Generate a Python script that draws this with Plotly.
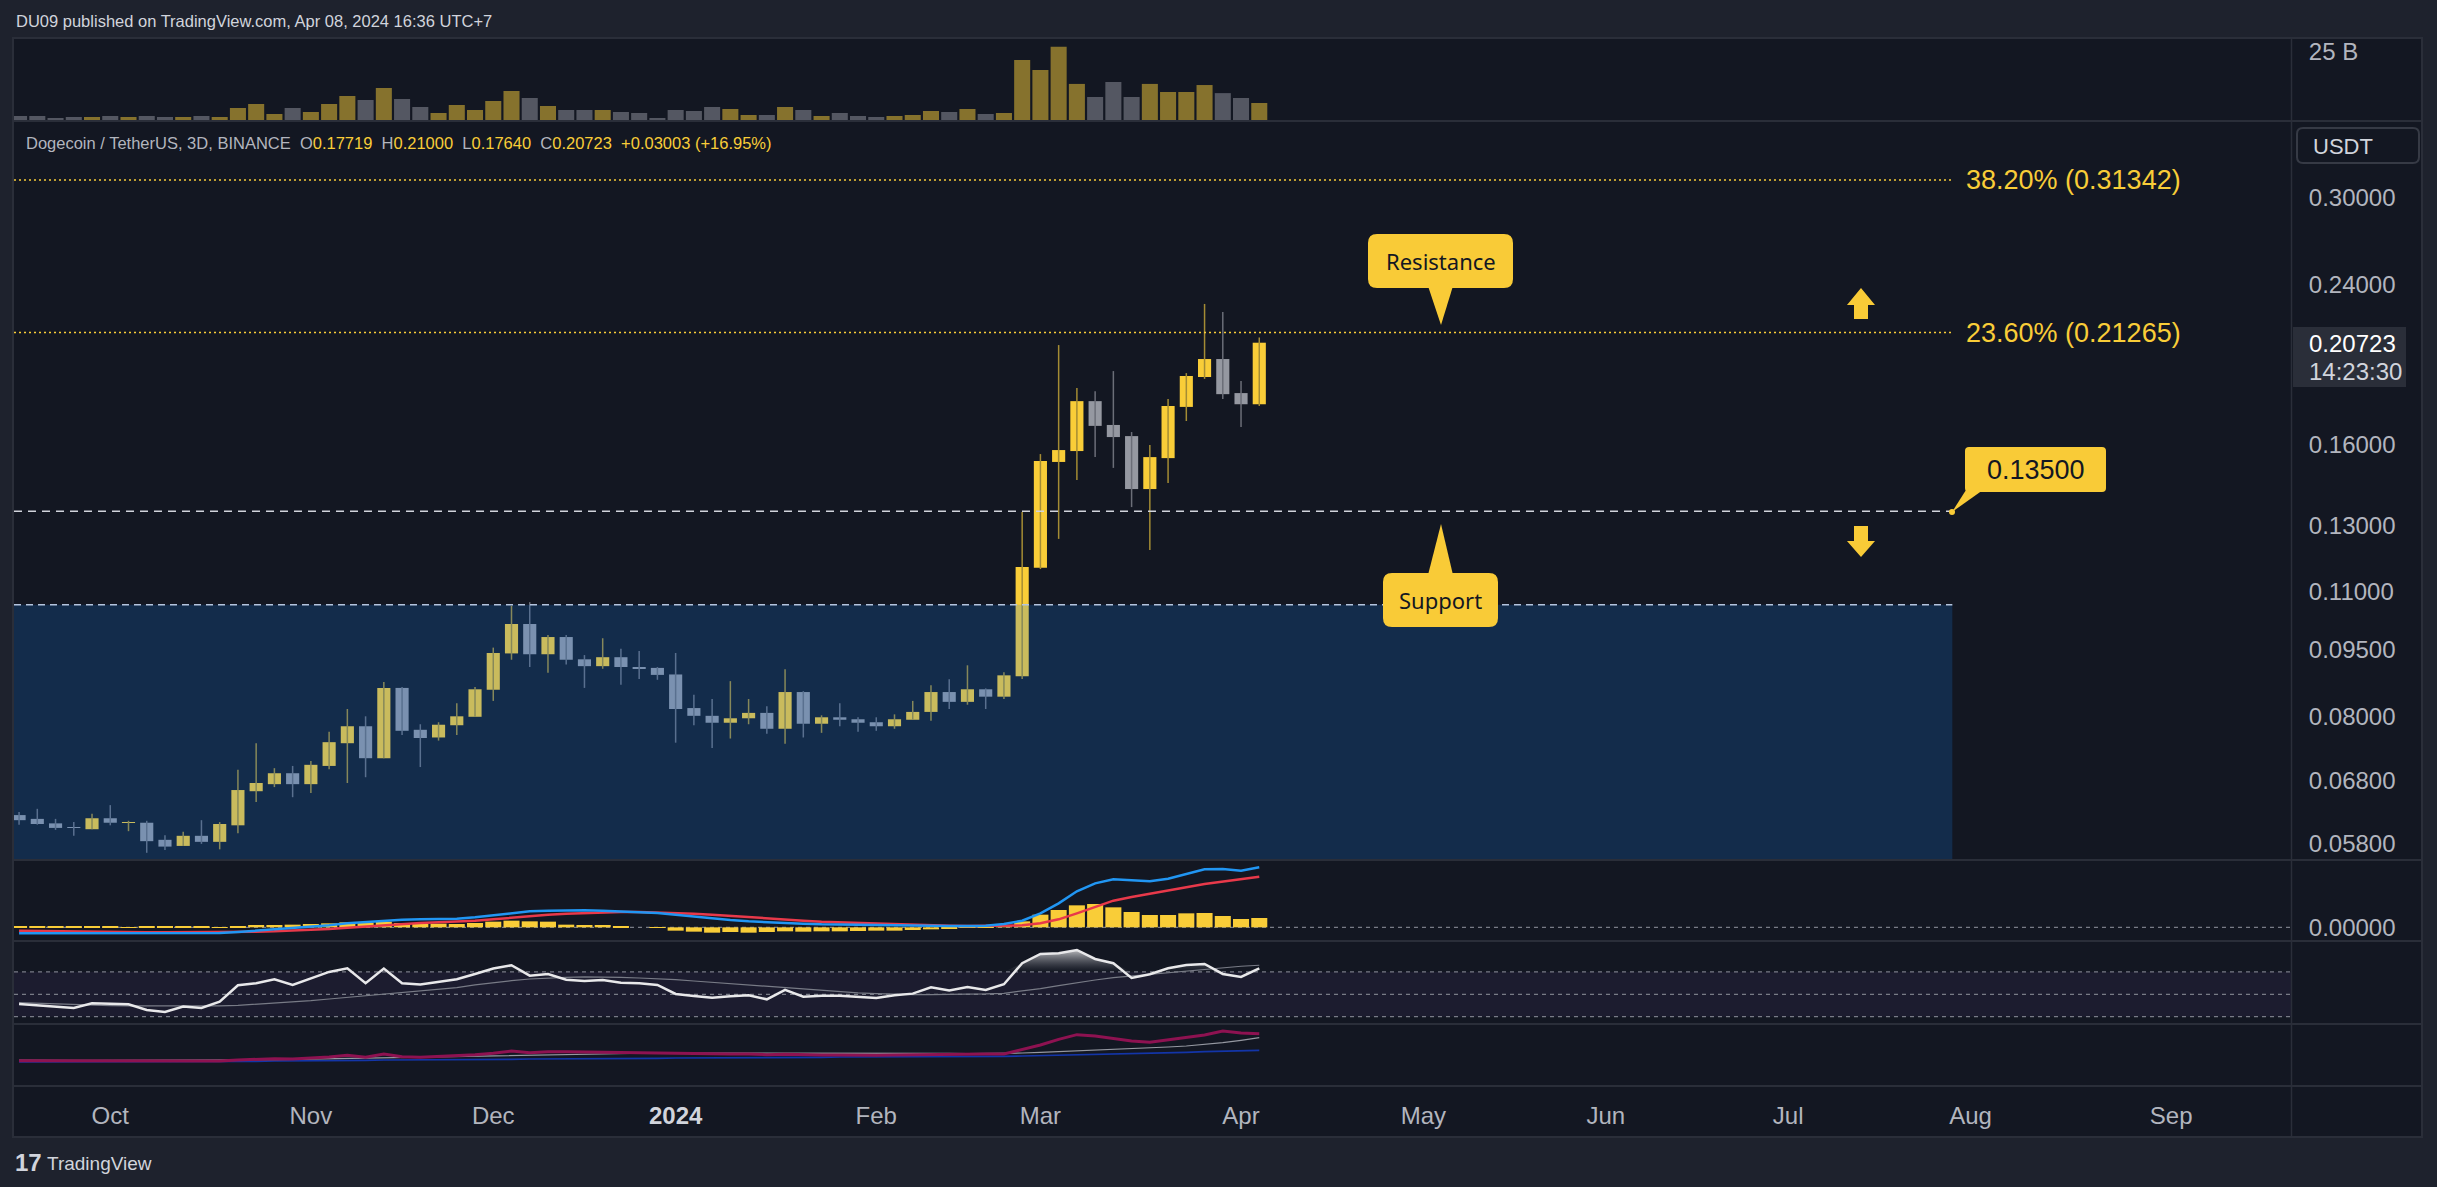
import math
import pandas as pd
import plotly.graph_objects as go

W, H = 2437, 1187

# ------------------------------------------------------------------ data
START_DATE = "2023-09-15"
BAR_DAYS = 3

OPEN = [0.0623, 0.0617, 0.0610, 0.0604, 0.0601, 0.0618, 0.0611, 0.0611, 0.0585, 0.0576,
        0.0591, 0.0582, 0.0607, 0.0662, 0.0674, 0.0693, 0.0674, 0.0706, 0.0748, 0.0781,
        0.0720, 0.0861, 0.0774, 0.0759, 0.0783, 0.0800, 0.0857, 0.0940, 0.1013, 0.0938,
        0.0980, 0.0926, 0.0910, 0.0931, 0.0908, 0.0906, 0.0891, 0.0818, 0.0802, 0.0788,
        0.0797, 0.0808, 0.0776, 0.0852, 0.0786, 0.0799, 0.0795, 0.0789, 0.0781, 0.0794,
        0.0810, 0.0852, 0.0831, 0.0858, 0.0842, 0.0887, 0.1169, 0.1530, 0.1573, 0.1786,
        0.1681, 0.1634, 0.1428, 0.1545, 0.1760, 0.1899, 0.1988, 0.1823, 0.17719]
HIGH = [0.0628, 0.0633, 0.0617, 0.0612, 0.0625, 0.0639, 0.0614, 0.0614, 0.0592, 0.0597,
        0.0615, 0.0612, 0.0699, 0.0748, 0.0702, 0.0706, 0.0715, 0.0770, 0.0816, 0.0801,
        0.0874, 0.0863, 0.0785, 0.0789, 0.0828, 0.0863, 0.0954, 0.1061, 0.1071, 0.0985,
        0.0985, 0.0936, 0.0977, 0.0951, 0.0946, 0.0908, 0.0941, 0.0846, 0.0837, 0.0876,
        0.0837, 0.0822, 0.0903, 0.0854, 0.0803, 0.0828, 0.0799, 0.0799, 0.0805, 0.0833,
        0.0867, 0.0880, 0.0912, 0.0860, 0.0896, 0.1347, 0.1561, 0.2060, 0.1847, 0.1832,
        0.1928, 0.1651, 0.1597, 0.1796, 0.1918, 0.2287, 0.2241, 0.1880, 0.21000]
LOW = [0.0608, 0.0608, 0.0600, 0.0591, 0.0601, 0.0607, 0.0598, 0.0566, 0.0570, 0.0576,
       0.0579, 0.0571, 0.0595, 0.0644, 0.0669, 0.0652, 0.0659, 0.0700, 0.0676, 0.0686,
       0.0720, 0.0764, 0.0704, 0.0753, 0.0764, 0.0800, 0.0833, 0.0925, 0.0908, 0.0895,
       0.0914, 0.0861, 0.0904, 0.0868, 0.0881, 0.0879, 0.0749, 0.0783, 0.0739, 0.0757,
       0.0785, 0.0766, 0.0747, 0.0759, 0.0768, 0.0781, 0.0770, 0.0772, 0.0776, 0.0794,
       0.0792, 0.0816, 0.0825, 0.0816, 0.0837, 0.0881, 0.1165, 0.1258, 0.1461, 0.1549,
       0.1507, 0.1364, 0.1223, 0.1450, 0.1698, 0.1890, 0.1796, 0.1672, 0.17640]
CLOSE = [0.0615, 0.0609, 0.0603, 0.0603, 0.0618, 0.0611, 0.0612, 0.0583, 0.0575, 0.0591,
         0.0582, 0.0609, 0.0664, 0.0676, 0.0693, 0.0674, 0.0708, 0.0750, 0.0781, 0.0720,
         0.0861, 0.0772, 0.0758, 0.0784, 0.0801, 0.0858, 0.0941, 0.1013, 0.0938, 0.0980,
         0.0925, 0.0910, 0.0931, 0.0908, 0.0905, 0.0890, 0.0816, 0.0802, 0.0788, 0.0797,
         0.0808, 0.0776, 0.0852, 0.0786, 0.0799, 0.0794, 0.0788, 0.0781, 0.0795, 0.0810,
         0.0852, 0.0831, 0.0858, 0.0842, 0.0889, 0.1171, 0.1534, 0.1577, 0.1786, 0.1677,
         0.1630, 0.1428, 0.1549, 0.1764, 0.1904, 0.1988, 0.1818, 0.17720, 0.20723]
VOLUME_B = [1.79, 1.79, 1.08, 1.44, 1.44, 1.79, 1.44, 1.79, 1.44, 1.44,
            1.79, 1.44, 4.66, 6.10, 2.51, 4.66, 3.23, 6.10, 8.97, 7.53,
            11.84, 7.89, 5.02, 2.87, 5.74, 3.95, 7.18, 10.76, 8.25, 5.38,
            3.95, 3.95, 3.95, 3.23, 2.87, 1.08, 3.95, 3.59, 5.02, 4.31,
            2.15, 2.15, 5.02, 3.95, 1.79, 2.87, 1.79, 1.44, 1.79, 2.15,
            3.59, 3.23, 4.31, 2.51, 2.87, 21.9, 18.3, 26.6, 13.3, 8.6,
            14.0, 8.6, 13.3, 10.4, 10.4, 12.9, 10.0, 8.25, 6.46]
MACD_LINE = [-0.0036, -0.0036, -0.0038, -0.0038, -0.0038, -0.0038, -0.0038, -0.0038, -0.0038, -0.0038,
             -0.0036, -0.0034, -0.0028, -0.0020, -0.0012, -0.0008, 0.0000, 0.0012, 0.0024, 0.0032,
             0.0040, 0.0046, 0.0048, 0.0050, 0.0052, 0.0060, 0.0072, 0.0088, 0.0096, 0.0100,
             0.0102, 0.0102, 0.0100, 0.0096, 0.0092, 0.0086, 0.0076, 0.0064, 0.0052, 0.0044,
             0.0036, 0.0030, 0.0026, 0.0022, 0.0018, 0.0016, 0.0014, 0.0012, 0.0010, 0.0008,
             0.0008, 0.0008, 0.0008, 0.0010, 0.0020, 0.0040, 0.0084, 0.0144, 0.0216, 0.0264,
             0.0288, 0.0280, 0.0276, 0.0292, 0.0320, 0.0348, 0.0350, 0.0340, 0.0360]
SIGNAL_LINE = [-0.0020, -0.0022, -0.0024, -0.0026, -0.0028, -0.0028, -0.0030, -0.0030, -0.0030, -0.0030,
               -0.0030, -0.0030, -0.0028, -0.0026, -0.0024, -0.0020, -0.0016, -0.0010, -0.0002, 0.0006,
               0.0014, 0.0020, 0.0026, 0.0030, 0.0034, 0.0040, 0.0048, 0.0058, 0.0068, 0.0076,
               0.0082, 0.0086, 0.0090, 0.0092, 0.0092, 0.0090, 0.0086, 0.0082, 0.0076, 0.0068,
               0.0060, 0.0052, 0.0046, 0.0040, 0.0034, 0.0030, 0.0026, 0.0022, 0.0018, 0.0014,
               0.0012, 0.0010, 0.0008, 0.0008, 0.0008, 0.0012, 0.0024, 0.0048, 0.0084, 0.0124,
               0.0160, 0.0182, 0.0200, 0.0220, 0.0240, 0.0260, 0.0276, 0.0288, 0.0304]
MACD_HIST = [0.0004, 0.0004, 0.0004, 0.0004, 0.0004, 0.0004, 0.0002, 0.0004, 0.0004, 0.0004,
             0.0004, 0.0002, 0.0008, 0.0014, 0.0014, 0.0016, 0.0020, 0.0024, 0.0030, 0.0028,
             0.0034, 0.0026, 0.0022, 0.0022, 0.0020, 0.0026, 0.0034, 0.0040, 0.0036, 0.0034,
             0.0016, 0.0014, 0.0014, 0.0004, 0.0000, -0.0004, -0.0020, -0.0026, -0.0032, -0.0028,
             -0.0032, -0.0028, -0.0024, -0.0026, -0.0024, -0.0024, -0.0022, -0.0020, -0.0020, -0.0016,
             -0.0012, -0.0008, -0.0002, 0.0002, 0.0012, 0.0036, 0.0076, 0.0104, 0.0132, 0.0140,
             0.0120, 0.0092, 0.0074, 0.0074, 0.0084, 0.0086, 0.0068, 0.0050, 0.0056]
RSI = [41.3, 40.1, 38.4, 37.8, 41.9, 41.3, 41.0, 36.0, 34.2, 39.0,
       37.8, 43.4, 58.1, 59.9, 63.4, 58.4, 64.3, 70.0, 73.3, 59.9,
       73.0, 59.9, 58.7, 61.0, 63.4, 68.2, 73.0, 76.0, 66.7, 68.2,
       63.1, 61.9, 62.8, 60.4, 59.9, 58.4, 50.3, 48.5, 47.0, 48.2,
       49.1, 45.5, 53.9, 47.9, 48.8, 48.8, 47.9, 46.7, 49.1, 50.6,
       56.3, 53.3, 56.6, 53.9, 59.0, 77.8, 86.1, 86.7, 89.7, 81.6,
       77.8, 64.6, 67.9, 73.3, 76.3, 77.2, 68.2, 65.5, 73.3]
RSI_MA = [42.5, 41.9, 41.3, 40.7, 40.1, 39.9, 39.6, 39.6, 39.3, 39.3,
          39.3, 39.6, 40.1, 41.0, 41.9, 43.1, 44.3, 45.8, 47.3, 48.5,
          50.0, 51.5, 53.0, 54.5, 56.0, 58.4, 60.4, 62.2, 63.7, 64.6,
          65.2, 65.5, 65.5, 65.2, 64.6, 64.0, 63.1, 61.9, 60.7, 59.6,
          58.4, 56.9, 55.7, 54.5, 53.3, 52.1, 51.2, 50.6, 50.0, 49.7,
          49.7, 49.7, 50.0, 50.3, 50.9, 52.7, 55.1, 57.8, 60.4, 62.8,
          64.9, 66.4, 67.9, 69.4, 71.2, 72.7, 74.2, 75.1, 76.0]
IND_MAIN = [7.6, 7.6, 7.6, 7.5, 7.5, 7.5, 7.5, 7.5, 7.4, 7.4,
            7.4, 7.5, 7.8, 8.1, 8.2, 8.1, 8.3, 8.7, 9.2, 8.6,
            9.6, 8.8, 8.6, 8.8, 9.0, 9.4, 9.8, 10.5, 10.0, 10.3,
            10.3, 10.2, 10.2, 10.1, 10.1, 10.0, 9.8, 9.7, 9.5, 9.6,
            9.6, 9.4, 9.5, 9.3, 9.3, 9.3, 9.2, 9.2, 9.3, 9.4,
            9.5, 9.5, 9.6, 9.6, 9.6, 11.0, 12.3, 14.0, 15.4, 15.0,
            14.2, 13.5, 13.1, 13.8, 14.6, 15.3, 16.5, 15.9, 15.7]
IND_MID = [7.8, 7.7, 7.7, 7.7, 7.7, 7.7, 7.7, 7.7, 7.7, 7.7,
           7.7, 7.7, 7.8, 7.8, 7.9, 8.0, 8.1, 8.2, 8.3, 8.4,
           8.6, 8.7, 8.8, 8.9, 9.0, 9.1, 9.2, 9.3, 9.4, 9.5,
           9.6, 9.7, 9.7, 9.8, 9.8, 9.9, 9.9, 9.9, 10.0, 10.0,
           10.0, 10.0, 10.0, 9.9, 9.9, 9.9, 9.9, 9.9, 9.8, 9.8,
           9.8, 9.8, 9.7, 9.7, 9.8, 9.9, 10.1, 10.3, 10.6, 10.8,
           11.0, 11.2, 11.4, 11.7, 12.0, 12.4, 13.0, 13.7, 14.5]
IND_SLOW = [7.2, 7.2, 7.2, 7.2, 7.2, 7.2, 7.3, 7.3, 7.3, 7.3,
            7.3, 7.3, 7.4, 7.4, 7.5, 7.5, 7.6, 7.6, 7.7, 7.7,
            7.8, 7.8, 7.9, 7.9, 7.9, 8.0, 8.0, 8.0, 8.1, 8.1,
            8.1, 8.2, 8.2, 8.2, 8.3, 8.3, 8.4, 8.4, 8.4, 8.5,
            8.5, 8.5, 8.6, 8.6, 8.6, 8.7, 8.7, 8.7, 8.8, 8.8,
            8.8, 8.8, 8.9, 8.9, 8.9, 9.0, 9.1, 9.2, 9.3, 9.4,
            9.5, 9.6, 9.7, 9.9, 10.1, 10.3, 10.5, 10.6, 10.7]

DATES = pd.date_range(START_DATE, periods=len(OPEN), freq=f"{BAR_DAYS}D")

X_RANGE = ["2023-09-14 04:00", "2024-09-22 17:00"]
X_TICK_DATES = ["2023-09-30", "2023-11-02", "2023-12-02", "2024-01-01", "2024-02-03", "2024-03-01",
                "2024-04-03", "2024-05-03", "2024-06-02", "2024-07-02", "2024-08-01", "2024-09-03"]
X_TICK_TEXT = ["Oct", "Nov", "Dec", "2024", "Feb", "Mar", "Apr", "May", "Jun", "Jul", "Aug", "Sep"]

PRICE_TICKS = [0.058, 0.068, 0.080, 0.095, 0.110, 0.130, 0.160, 0.240, 0.300]
FIB_LEVELS = [0.31342, 0.21265]
FIB_NAMES = ["38.20%", "23.60%"]
SUPPORT_LEVEL = 0.135
BOX_TOP = 0.1064
DRAWING_END = "2024-07-29"
VOLUME_TICK = 25
RSI_LEVELS = [70, 50, 30]
TIMER_TEXT = "14:23:30"

# ------------------------------------------------------------------ style
BG_OUTER = "#1e222d"
BG = "#131722"
SEP = "#2a2e39"
UP = "#f9cd38"
DOWN = "#9598a1"
UP_WICK = "#a48c34"
DOWN_WICK = "#6b6e78"
AXIS_TXT = "#b2b5be"
FONT = "Liberation Sans, Arial, sans-serif"
CALL_FONT = "Noto Sans, Open Sans, sans-serif"


def fx(p):
    return p / W


def fy(p):
    return 1 - p / H


X_DOM = [fx(14), fx(2291)]
D_VOL = [fy(121), fy(39)]
D_PRICE = [fy(860), fy(121)]
D_MACD = [fy(941), fy(860)]
D_RSI = [fy(1024), fy(941)]
D_IND = [fy(1086), fy(1024)]

ms_bar = BAR_DAYS * 86400000

fig = go.Figure()

# ---- price candles: wicks then bodies
up_mask = [c >= o for o, c in zip(OPEN, CLOSE)]
for is_up, col in [(True, UP_WICK), (False, DOWN_WICK)]:
    xs, ys = [], []
    for d, h, l, u in zip(DATES, HIGH, LOW, up_mask):
        if u == is_up:
            xs += [d, d, None]
            ys += [l, h, None]
    fig.add_trace(go.Scatter(x=xs, y=ys, mode="lines", line=dict(color=col, width=1.5),
                             xaxis="x", yaxis="y", hoverinfo="skip"))

fig.add_trace(go.Bar(
    x=DATES, y=[abs(c - o) for o, c in zip(OPEN, CLOSE)],
    base=[min(o, c) for o, c in zip(OPEN, CLOSE)],
    width=ms_bar * 0.72,
    marker=dict(color=[UP if u else DOWN for u in up_mask], line=dict(width=0)),
    xaxis="x", yaxis="y", hoverinfo="skip"))

# ---- volume
fig.add_trace(go.Bar(
    x=DATES, y=VOLUME_B, width=ms_bar * 0.88,
    marker=dict(color=["rgba(249,205,56,0.5)" if u else "rgba(149,152,161,0.5)" for u in up_mask],
                line=dict(width=0)),
    xaxis="x2", yaxis="y2", hoverinfo="skip"))

# ---- MACD
fig.add_trace(go.Bar(x=DATES, y=MACD_HIST, width=ms_bar * 0.88,
                     marker=dict(color=UP, line=dict(width=0)),
                     xaxis="x3", yaxis="y3", hoverinfo="skip"))
fig.add_trace(go.Scatter(x=DATES, y=SIGNAL_LINE, mode="lines", line=dict(color="#e8394a", width=2.5),
                         xaxis="x3", yaxis="y3", hoverinfo="skip"))
fig.add_trace(go.Scatter(x=DATES, y=MACD_LINE, mode="lines", line=dict(color="#2196f3", width=2.5),
                         xaxis="x3", yaxis="y3", hoverinfo="skip"))

# ---- RSI
fig.add_trace(go.Scatter(x=DATES, y=[RSI_LEVELS[0]] * len(DATES), mode="lines",
                         line=dict(width=0, color="rgba(0,0,0,0)"),
                         xaxis="x4", yaxis="y4", hoverinfo="skip"))
fig.add_trace(go.Scatter(x=DATES, y=[max(r, RSI_LEVELS[0]) for r in RSI], mode="lines",
                         line=dict(width=0, color="rgba(0,0,0,0)"), fill="tonexty",
                         fillgradient=dict(type="vertical",
                                           colorscale=[[0, "rgba(120,123,134,0)"],
                                                       [1, "rgba(235,235,235,0.85)"]],
                                           start=70, stop=91),
                         xaxis="x4", yaxis="y4", hoverinfo="skip"))
fig.add_trace(go.Scatter(x=DATES, y=RSI_MA, mode="lines", line=dict(color="#787b86", width=1.2),
                         xaxis="x4", yaxis="y4", hoverinfo="skip"))
fig.add_trace(go.Scatter(x=DATES, y=RSI, mode="lines", line=dict(color="#e8e8ea", width=2.5),
                         xaxis="x4", yaxis="y4", hoverinfo="skip"))

# ---- bottom indicator
fig.add_trace(go.Scatter(x=DATES, y=IND_SLOW, mode="lines", line=dict(color="#1335a8", width=1.6),
                         xaxis="x5", yaxis="y5", hoverinfo="skip"))
fig.add_trace(go.Scatter(x=DATES, y=IND_MID, mode="lines", line=dict(color="#9598a1", width=1.2),
                         xaxis="x5", yaxis="y5", hoverinfo="skip"))
fig.add_trace(go.Scatter(x=DATES, y=IND_MAIN, mode="lines", line=dict(color="#8e1251", width=3),
                         xaxis="x5", yaxis="y5", hoverinfo="skip"))

# ------------------------------------------------------------------ axes
def xax(anchor, **kw):
    d = dict(type="date", range=X_RANGE, domain=X_DOM, anchor=anchor, showgrid=False,
             zeroline=False, showline=False, showticklabels=False, ticks="")
    d.update(kw)
    return d


tick_text = [f"<b><span style='color:#d1d4dc'>{t}</span></b>" if t.isdigit() else t for t in X_TICK_TEXT]

yfont = dict(family=FONT, size=24, color=AXIS_TXT)
ycommon = dict(side="right", showgrid=False, zeroline=False, showline=False,
               ticks="outside", ticklen=12, tickcolor="rgba(0,0,0,0)", tickfont=yfont)

fig.update_layout(
    width=W, height=H, margin=dict(l=0, r=0, t=0, b=0),
    paper_bgcolor=BG_OUTER, plot_bgcolor=BG, showlegend=False, hovermode=False,
    barmode="overlay",
    xaxis=xax("y"),
    xaxis2=xax("y2", matches="x"),
    xaxis3=xax("y3", matches="x"),
    xaxis4=xax("y4", matches="x"),
    xaxis5=xax("y5", matches="x", showticklabels=True, tickmode="array",
               tickvals=X_TICK_DATES, ticktext=tick_text, ticks="outside", ticklen=8,
               tickcolor="rgba(0,0,0,0)", tickfont=dict(family=FONT, size=24, color=AXIS_TXT)),
    yaxis=dict(domain=D_PRICE, anchor="x", type="log",
               range=[-1.25514, -0.43857], tickmode="array", tickvals=PRICE_TICKS,
               ticktext=[f"{v:.5f}" for v in PRICE_TICKS], **ycommon),
    yaxis2=dict(domain=D_VOL, anchor="x2", range=[0, 29.41], tickmode="array",
                tickvals=[VOLUME_TICK], ticktext=[f"{VOLUME_TICK} B"], **ycommon),
    yaxis3=dict(domain=D_MACD, anchor="x3", range=[-0.0082, 0.0404], tickmode="array",
                tickvals=[0], ticktext=["0.00000"], **ycommon),
    yaxis4=dict(domain=D_RSI, anchor="x4", range=[23.4, 97.7], showticklabels=False,
                showgrid=False, zeroline=False, side="right"),
    yaxis5=dict(domain=D_IND, anchor="x5", range=[0, 18.6], showticklabels=False,
                showgrid=False, zeroline=False, side="right"),
)

# ------------------------------------------------------------------ shapes
shapes = []


def rrect(x0, y0, x1, y1, r):
    def P(x, y):
        return f"{fx(x):.6f},{fy(y):.6f}"
    return (f"M {P(x0 + r, y0)} L {P(x1 - r, y0)} Q {P(x1, y0)} {P(x1, y0 + r)} "
            f"L {P(x1, y1 - r)} Q {P(x1, y1)} {P(x1 - r, y1)} L {P(x0 + r, y1)} "
            f"Q {P(x0, y1)} {P(x0, y1 - r)} L {P(x0, y0 + r)} Q {P(x0, y0)} {P(x0 + r, y0)} Z")


def poly(pts):
    s = " L ".join(f"{fx(x):.6f},{fy(y):.6f}" for x, y in pts)
    return f"M {s} Z"


# chart frame background
shapes.append(dict(type="rect", xref="paper", yref="paper", x0=fx(13), x1=fx(2422), y0=fy(1137), y1=fy(38),
                   fillcolor=BG, line=dict(color=SEP, width=2), layer="below"))

# RSI band + levels
shapes.append(dict(type="rect", xref="x4 domain", yref="y4", x0=0, x1=1, y0=RSI_LEVELS[2], y1=RSI_LEVELS[0],
                   fillcolor="rgba(126,87,194,0.09)", line=dict(width=0), layer="below"))
for lv in RSI_LEVELS:
    shapes.append(dict(type="line", xref="x4 domain", yref="y4", x0=0, x1=1, y0=lv, y1=lv,
                       line=dict(color="#787b86", width=1.2, dash="4px,4px"), layer="below"))
# MACD zero line
shapes.append(dict(type="line", xref="x3 domain", yref="y3", x0=0, x1=1, y0=0, y1=0,
                   line=dict(color="#787b86", width=1.2, dash="4px,4px"), layer="below"))

# blue zone box (overlay) and its dashed top
shapes.append(dict(type="rect", xref="x", yref="y", x0=X_RANGE[0], x1=DRAWING_END, y0=0.04, y1=BOX_TOP,
                   fillcolor="rgba(24,121,231,0.21)", line=dict(width=0), layer="above"))
shapes.append(dict(type="line", xref="x", yref="y", x0=X_RANGE[0], x1=DRAWING_END, y0=BOX_TOP, y1=BOX_TOP,
                   line=dict(color="#b4c4de", width=1.5, dash="7px,5px"), layer="above"))
# fib levels
for lv in FIB_LEVELS:
    shapes.append(dict(type="line", xref="x", yref="y", x0=X_RANGE[0], x1=DRAWING_END, y0=lv, y1=lv,
                       line=dict(color=UP, width=1.5, dash="2px,3px"), layer="above"))
# support level
shapes.append(dict(type="line", xref="x", yref="y", x0=X_RANGE[0], x1=DRAWING_END, y0=SUPPORT_LEVEL,
                   y1=SUPPORT_LEVEL, line=dict(color="#d1d4dc", width=1.5, dash="8px,6px"), layer="above"))

# pane separators
for yy in [121, 860, 941, 1024, 1086]:
    shapes.append(dict(type="line", xref="paper", yref="paper", x0=fx(14), x1=fx(2422), y0=fy(yy), y1=fy(yy),
                       line=dict(color=SEP, width=2), layer="above"))
shapes.append(dict(type="line", xref="paper", yref="paper", x0=fx(2291.5), x1=fx(2291.5), y0=fy(38), y1=fy(1136),
                   line=dict(color=SEP, width=1.5), layer="above"))

CALL = "#f9cb37"
# Resistance callout
shapes.append(dict(type="path", xref="paper", yref="paper", path=rrect(1368, 234, 1513, 288, 9),
                   fillcolor=CALL, line=dict(width=0), layer="above"))
shapes.append(dict(type="path", xref="paper", yref="paper", path=poly([(1428, 286), (1441, 325), (1453, 286)]),
                   fillcolor=CALL, line=dict(width=0), layer="above"))
# Support callout
shapes.append(dict(type="path", xref="paper", yref="paper", path=rrect(1383, 573, 1498, 627, 9),
                   fillcolor=CALL, line=dict(width=0), layer="above"))
shapes.append(dict(type="path", xref="paper", yref="paper", path=poly([(1428, 575), (1441, 524), (1453, 575)]),
                   fillcolor=CALL, line=dict(width=0), layer="above"))
# level callout
shapes.append(dict(type="path", xref="paper", yref="paper", path=rrect(1965, 447, 2106, 492, 4),
                   fillcolor=CALL, line=dict(width=0), layer="above"))
shapes.append(dict(type="path", xref="paper", yref="paper", path=poly([(1952, 512), (1966, 490), (1983, 490)]),
                   fillcolor=CALL, line=dict(width=0), layer="above"))
shapes.append(dict(type="circle", xref="paper", yref="paper", x0=fx(1949), x1=fx(1955), y0=fy(515), y1=fy(509),
                   fillcolor=CALL, line=dict(width=0), layer="above"))
# arrows
shapes.append(dict(type="path", xref="paper", yref="paper",
                   path=poly([(1861, 288), (1875, 305), (1868, 305), (1868, 319), (1854, 319), (1854, 305), (1847, 305)]),
                   fillcolor=CALL, line=dict(width=0), layer="above"))
shapes.append(dict(type="path", xref="paper", yref="paper",
                   path=poly([(1854, 526), (1868, 526), (1868, 541), (1875, 541), (1861, 557), (1847, 541), (1854, 541)]),
                   fillcolor=CALL, line=dict(width=0), layer="above"))
# right axis: USDT box and last price box
shapes.append(dict(type="path", xref="paper", yref="paper", path=rrect(2297, 128, 2419, 163, 6),
                   fillcolor="rgba(0,0,0,0)", line=dict(color="#363a45", width=2), layer="above"))
shapes.append(dict(type="rect", xref="paper", yref="paper", x0=fx(2293), x1=fx(2406), y0=fy(387), y1=fy(327),
                   fillcolor="#2a2e39", line=dict(width=0), layer="above"))

fig.update_layout(shapes=shapes)

# ------------------------------------------------------------------ annotations
ann = []


def text(x, y, s, size, color, family=FONT, xanchor="left", yanchor="middle", xref="paper", yref="paper"):
    ann.append(dict(x=x, y=y, xref=xref, yref=yref, text=s, showarrow=False, xanchor=xanchor,
                    yanchor=yanchor, font=dict(family=family, size=size, color=color)))


text(fx(14), fy(21), "DU09 published on TradingView.com, Apr 08, 2024 16:36 UTC+7", 16.5, "#d1d4dc")

chg = CLOSE[-1] - CLOSE[-2]
pct = chg / CLOSE[-2] * 100
Y = "#f9cd38"
legend = (f"Dogecoin / TetherUS, 3D, BINANCE&nbsp;&nbsp;O<span style='color:{Y}'>{OPEN[-1]:.5f}</span>"
          f"&nbsp;&nbsp;H<span style='color:{Y}'>{HIGH[-1]:.5f}</span>"
          f"&nbsp;&nbsp;L<span style='color:{Y}'>{LOW[-1]:.5f}</span>"
          f"&nbsp;&nbsp;C<span style='color:{Y}'>{CLOSE[-1]:.5f}</span>"
          f"&nbsp;&nbsp;<span style='color:{Y}'>{chg:+.5f} ({pct:+.2f}%)</span>")
text(fx(24), fy(143), legend, 16.5, AXIS_TXT)

for lv, nm in zip(FIB_LEVELS, FIB_NAMES):
    text(fx(1964), math.log10(lv), f"{nm} ({lv:.5f})", 27, UP, yref="y")

text(fx(1440.5), fy(261), "Resistance", 22, "#131722", family=CALL_FONT, xanchor="center")
text(fx(1440.5), fy(600), "Support", 22, "#131722", family=CALL_FONT, xanchor="center")
text(fx(2035.5), fy(470), f"{SUPPORT_LEVEL:.5f}", 27, "#131722", xanchor="center")

text(fx(2311), fy(146), "USDT", 22, "#d1d4dc")
text(fx(2307), fy(343), f"{CLOSE[-1]:.5f}", 24, "#ffffff")
text(fx(2307), fy(371), TIMER_TEXT, 24, "#d1d4dc")

text(fx(13), fy(1162), "<b>17</b>", 24, "#d1d4dc", family="Liberation Sans Narrow, Arial Narrow, sans-serif")
text(fx(45), fy(1163), "TradingView", 19, "#d1d4dc")

fig.update_layout(annotations=ann)

fig.write_html("out.html")
